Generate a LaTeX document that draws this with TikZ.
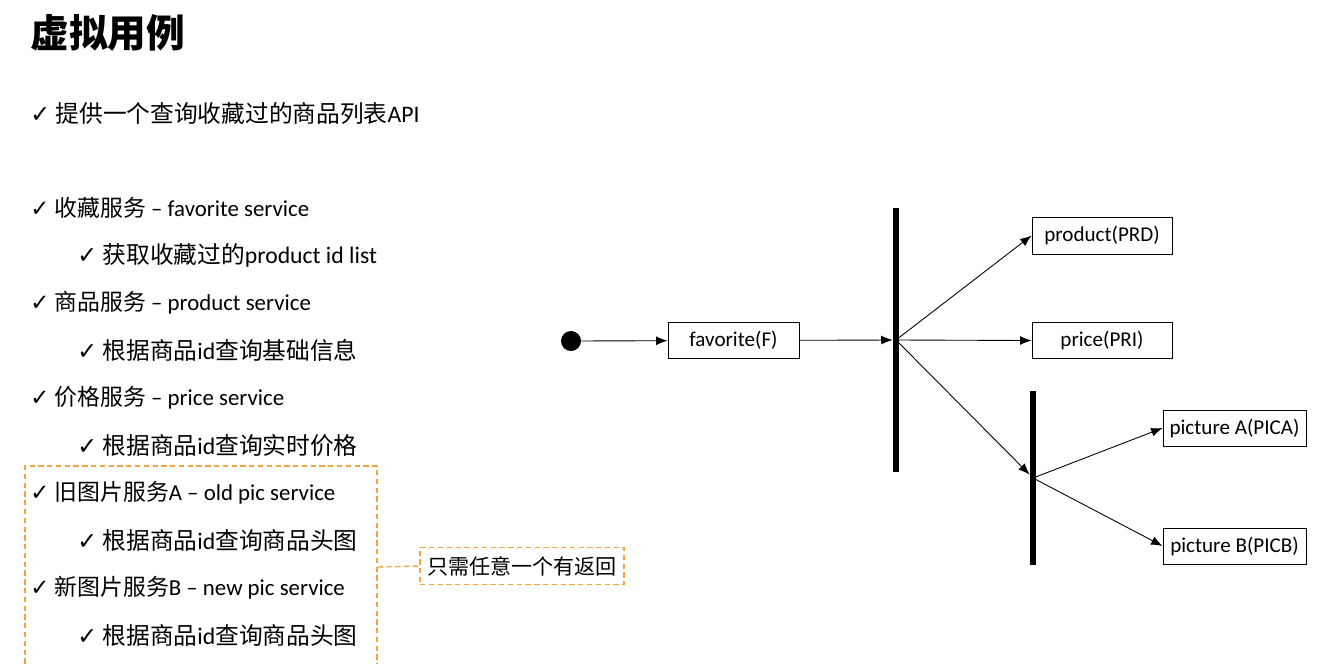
\documentclass[tikz,border=0pt]{standalone}
\usepackage{fontspec}
\setmainfont{Carlito}
\newfontfamily\cjk{Noto Sans CJK SC}
\newfontfamily\symfont{DejaVu Sans}
\usetikzlibrary{arrows.meta, positioning}
\definecolor{hintorange}{RGB}{244,164,64}
\newcommand{\ck}{{\symfont\char"2713}\ }

\begin{document}
\begin{tikzpicture}[x=0.02cm, y=-0.02cm,
    head/.style={anchor=west, inner sep=0pt, font=\fontsize{13pt}{15pt}\selectfont},
    sub/.style={anchor=west, inner sep=0pt, font=\fontsize{13.5pt}{16pt}\selectfont},
    state/.style={draw, line width=0.5pt, inner sep=0pt, minimum height=0.72cm,
        font=\fontsize{12pt}{14pt}\selectfont},
    bar/.style={fill=black, inner sep=0pt, minimum width=0.12cm},
    flow/.style={-{Latex[length=6.5pt,width=5pt]}, line width=0.5pt},
    hint/.style={draw=hintorange, dash pattern=on 3pt off 2pt, line width=0.8pt}
]
    \useasboundingbox (0,0) rectangle (1337,663);

    % Title
    \node[anchor=west, inner sep=0pt, font=\fontsize{22pt}{26pt}\selectfont\cjk\bfseries]
        (title) at (30,33) {虚拟用例};

    % Use case list
    \node[sub] (api) at (30,113) {\ck{\cjk 提供一个查询收藏过的商品列表}API};
    \node[head] (favsvc) at (30,208) {\ck{\cjk 收藏服务} – favorite service};
    \node[sub]  (favdo)  at (77,255) {\ck{\cjk 获取收藏过的}product id list};
    \node[head] (prdsvc) at (30,303) {\ck{\cjk 商品服务} – product service};
    \node[sub]  (prddo)  at (77,350) {\ck{\cjk 根据商品}id{\cjk 查询基础信息}};
    \node[head] (prisvc) at (30,398) {\ck{\cjk 价格服务} – price service};
    \node[sub]  (prido)  at (77,445) {\ck{\cjk 根据商品}id{\cjk 查询实时价格}};
    \node[head] (picasvc) at (30,493) {\ck{\cjk 旧图片服务}A – old pic service};
    \node[sub]  (picado)  at (77,540) {\ck{\cjk 根据商品}id{\cjk 查询商品头图}};
    \node[head] (picbsvc) at (30,588) {\ck{\cjk 新图片服务}B – new pic service};
    \node[sub]  (picbdo)  at (77,635) {\ck{\cjk 根据商品}id{\cjk 查询商品头图}};

    % Either picture service is enough
    \node[hint, inner sep=0pt, minimum width=7.04cm, minimum height=4.04cm]
        (group) at (201,567) {};
    \node[hint, inner sep=0pt, minimum width=4.08cm, minimum height=0.74cm,
        font=\fontsize{12pt}{14pt}\selectfont\cjk] (anyone) at (522,566) {只需任意一个有返回};
    \draw[hint] (group.east) -- (anyone.west);

    % Activity flow
    \node[circle, fill=black, inner sep=0pt, minimum size=0.4cm] (start) at (571,341) {};
    \node[state, minimum width=2.62cm] (fav) at (733.5,340.5) {favorite(F)};
    \node[bar, minimum height=5.28cm] (fork1) at (896,340) {};
    \node[state, minimum width=2.8cm, minimum height=0.74cm] (prd) at (1102,235.5) {product(PRD)};
    \node[state, minimum width=2.8cm] (pri) at (1102,340.5) {price(PRI)};
    \node[bar, minimum height=3.48cm] (fork2) at (1033,478) {};
    \node[state, minimum width=2.86cm] (pica) at (1234.5,428) {picture A(PICA)};
    \node[state, minimum width=2.86cm] (picb) at (1234.5,546) {picture B(PICB)};

    \draw[flow] (start) -- (fav);
    \draw[flow] (fav) -- (fork1);
    \draw[flow] (fork1.center) -- (prd.west);
    \draw[flow] (fork1.center) -- (pri.west);
    \draw[flow] (fork1.center) -- (fork2);
    \draw[flow] (fork2.center) -- (pica.west);
    \draw[flow] (fork2.center) -- (picb.west);
\end{tikzpicture}
\end{document}
